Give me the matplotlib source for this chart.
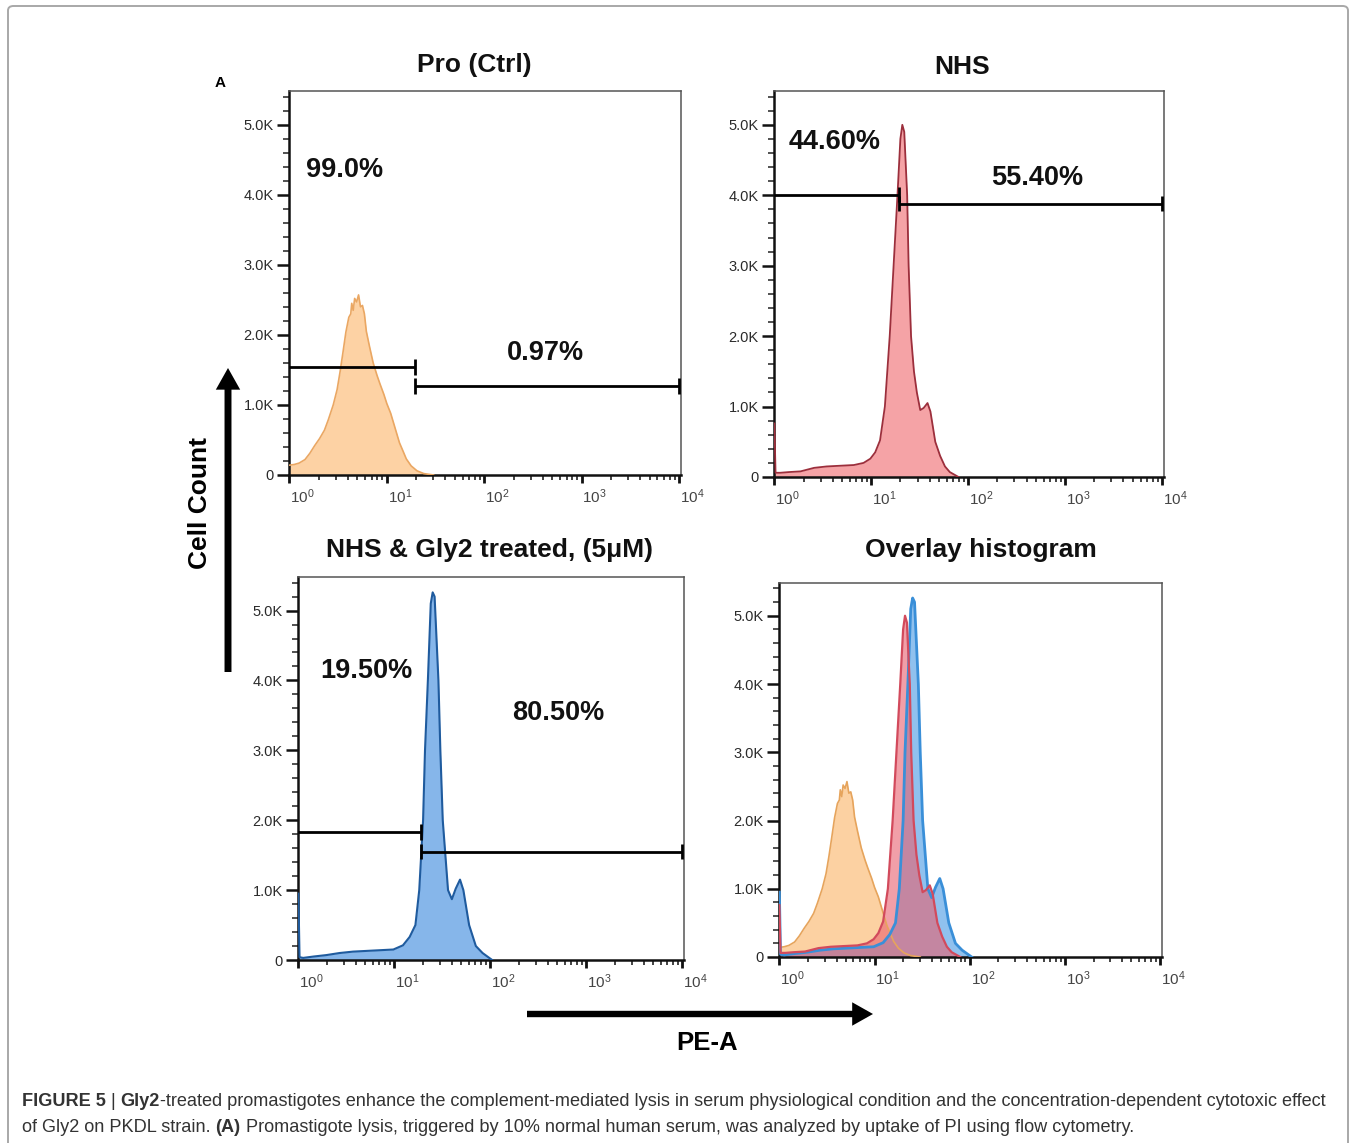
import numpy as np
import matplotlib
matplotlib.use("Agg")
import matplotlib.pyplot as plt
from matplotlib.ticker import FixedLocator, MultipleLocator, LogLocator, NullFormatter, FuncFormatter
from matplotlib.patches import FancyBboxPatch, FancyArrowPatch
import matplotlib.transforms as mtransforms

W, H, DPI = 1356, 1143, 100

# ---------------- data ----------------
titles = ["Pro (Ctrl)", "NHS", "NHS & Gly2 treated, (5μM)", "Overlay histogram"]

# log10(PE-A) positions and cell counts
pro_log_pe = [0.00, 0.05, 0.10, 0.16, 0.21, 0.26, 0.31, 0.36, 0.40, 0.45, 0.49, 0.52,
              0.55, 0.58, 0.61, 0.63, 0.64, 0.655, 0.67, 0.69, 0.71, 0.73, 0.75, 0.77,
              0.79, 0.82, 0.86, 0.90, 0.93, 0.97, 1.00, 1.04, 1.07, 1.10, 1.13, 1.17,
              1.20, 1.25, 1.31, 1.38, 1.48]
pro_count = [140, 150, 170, 220, 310, 420, 520, 640, 790, 1000, 1220, 1470,
             1750, 2040, 2250, 2300, 2450, 2350, 2520, 2470, 2570, 2400, 2420, 2300,
             2050, 1850, 1600, 1420, 1300, 1150, 1020, 880, 740, 600, 460, 330,
             230, 130, 60, 20, 0]

nhs_log_pe = [0.00, 0.012, 0.06, 0.15, 0.27, 0.41, 0.54, 0.68, 0.82, 0.92, 0.99, 1.04,
              1.09, 1.14, 1.19, 1.23, 1.27, 1.30, 1.32, 1.34, 1.37, 1.385, 1.41, 1.44,
              1.47, 1.505, 1.54, 1.58, 1.61, 1.66, 1.71, 1.76, 1.81, 1.90]
nhs_count = [760, 60, 60, 70, 80, 130, 150, 160, 170, 200, 260, 350,
             520, 1000, 2000, 3000, 4000, 4800, 5000, 4900, 4000, 3000, 2000, 1500,
             1200, 950, 980, 1050, 930, 500, 300, 150, 70, 0]

gly_log_pe = [0.00, 0.012, 0.05, 0.16, 0.29, 0.43, 0.57, 0.71, 0.85, 0.99, 1.09, 1.16,
              1.22, 1.26, 1.30, 1.32, 1.35, 1.38, 1.40, 1.42, 1.44, 1.46, 1.48, 1.505,
              1.56, 1.60, 1.64, 1.685, 1.72, 1.78, 1.85, 1.92, 2.02]
gly_count = [950, 40, 30, 50, 70, 100, 120, 130, 140, 150, 210, 330,
             500, 1000, 2000, 3000, 4000, 5100, 5260, 5200, 4600, 4000, 3000, 2000,
             1000, 870, 1020, 1150, 1000, 500, 200, 100, 0]

# gates
gate_split_pe = [19.5, 19.5, 19.0]
gate_end_pe = 10000
gate_left_count = [1540, 4010, 1830]
gate_right_count = [1270, 3880, 1550]
pct_left = ["99.0%", "44.60%", "19.50%"]
pct_right = ["0.97%", "55.40%", "80.50%"]

y_major = [0, 1000, 2000, 3000, 4000, 5000]
x_major = [1, 10, 100, 1000, 10000]

caption_line1 = [("FIGURE 5", True), (" | ", False), ("Gly2", True),
                 ("-treated promastigotes enhance the complement-mediated lysis in serum "
                  "physiological condition and the concentration-dependent cytotoxic effect", False)]
caption_line2 = [("of Gly2 on PKDL strain. ", False), ("(A)", True),
                 (" Promastigote lysis, triggered by 10% normal human serum, was analyzed by "
                  "uptake of PI using flow cytometry.", False)]

# ---------------- layout ----------------
# axes boxes in pixels: left, right, top, bottom
boxes = [(289, 681, 91, 475), (774, 1164, 91, 477), (298, 684, 577, 960), (779, 1162, 583, 957)]
title_pos = [(0.474, 1.068), (0.482, 1.062), (0.495, 1.070), (0.527, 1.088)]
pct_left_pos = [(0.143, 0.794), (0.156, 0.868), (0.176, 0.755)]
pct_right_pos = [(0.653, 0.318), (0.674, 0.775), (0.674, 0.645)]

styles = {
    "pro": dict(fc="#fdd2a4", ec="#eaa763", alpha=1.0, lw=1.2),
    "nhs": dict(fc="#f5a3a6", ec="#9c2f3c", alpha=1.0, lw=1.3),
    "gly": dict(fc="#86b6ea", ec="#1f5b9e", alpha=1.0, lw=1.5),
}
overlay_styles = [
    ("pro", dict(fc="#fcc992", ec="#e6a45c", alpha=0.85, lw=1.2)),
    ("gly", dict(fc="#74b2ea", ec="#3a8fd8", alpha=0.8, lw=2.0)),
    ("nhs", dict(fc="#e8606e", ec="#d24a5c", alpha=0.6, lw=1.6)),
]

plt.rcParams["font.family"] = ["Liberation Sans", "DejaVu Sans"]
plt.rcParams["mathtext.fontset"] = "custom"
plt.rcParams["mathtext.rm"] = "Liberation Sans"

fig = plt.figure(figsize=(W / DPI, H / DPI), dpi=DPI)
fig.patch.set_facecolor("white")

# rounded frame
frame = FancyBboxPatch((8 / W, 1 - 1160 / H), (1348 - 8) / W, (1160 - 6) / H,
                       boxstyle="round,pad=0,rounding_size=0.004", transform=fig.transFigure,
                       fc="none", ec="#a8a8a8", lw=1.4, zorder=0)
fig.add_artist(frame)

data = {
    "pro": (pro_log_pe, pro_count),
    "nhs": (nhs_log_pe, nhs_count),
    "gly": (gly_log_pe, gly_count),
}


def draw_hist(ax, key, st):
    lx, c = data[key]
    x = 10 ** np.asarray(lx, dtype=float)
    y = np.asarray(c, dtype=float)
    ax.fill_between(x, 0, y, color=st["fc"], alpha=st["alpha"], lw=0, zorder=2)
    ax.plot(x, y, color=st["ec"], lw=st["lw"], zorder=3, solid_joinstyle="round")


def kfmt(v, pos):
    return "0" if v == 0 else f"{v / 1000:.1f}K"


def style_axes(ax):
    ax.set_xscale("log")
    ax.set_xlim(10 ** -0.004, 10 ** 4.02)
    ax.set_ylim(0, 5480)
    ax.yaxis.set_major_locator(FixedLocator(y_major))
    ax.yaxis.set_minor_locator(MultipleLocator(200))
    ax.yaxis.set_major_formatter(FuncFormatter(kfmt))
    ax.xaxis.set_major_locator(FixedLocator(x_major))
    ax.xaxis.set_minor_locator(LogLocator(base=10, subs=np.arange(2, 10), numticks=20))
    ax.xaxis.set_minor_formatter(NullFormatter())
    ax.xaxis.set_major_formatter(FuncFormatter(lambda v, p: r"$\mathregular{10^{%d}}$" % round(np.log10(v))))
    ax.tick_params(axis="y", which="major", direction="out", length=9, width=1.8,
                   labelsize=10.5, colors="#111111", labelcolor="#2a2a2a", pad=2)
    ax.tick_params(axis="y", which="minor", direction="out", length=4.5, width=1.1, colors="#222222")
    ax.tick_params(axis="x", which="major", direction="out", length=6, width=2.0,
                   labelsize=11, colors="#111111", labelcolor="#444444", pad=3)
    ax.tick_params(axis="x", which="minor", direction="out", length=3.5, width=1.2, colors="#222222")
    for s in ("left", "bottom"):
        ax.spines[s].set_linewidth(1.8)
        ax.spines[s].set_color("#111111")
    for s in ("top", "right"):
        ax.spines[s].set_linewidth(1.1)
        ax.spines[s].set_color("#555555")
    offset = mtransforms.ScaledTranslation(13 / DPI, 0, fig.dpi_scale_trans)
    for lab in ax.get_xticklabels():
        lab.set_transform(lab.get_transform() + offset)


axes = []
for i, (l, r, t, b) in enumerate(boxes):
    ax = fig.add_axes([l / W, 1 - b / H, (r - l) / W, (b - t) / H])
    axes.append(ax)

keys = ["pro", "nhs", "gly"]
x_left = 10 ** -0.004
for i in range(3):
    ax = axes[i]
    draw_hist(ax, keys[i], styles[keys[i]])
    ax.plot([x_left, gate_split_pe[i]], [gate_left_count[i]] * 2, color="black", lw=2.0, zorder=5,
            solid_capstyle="butt")
    ax.plot([gate_split_pe[i], gate_end_pe], [gate_right_count[i]] * 2, color="black", lw=2.0,
            zorder=5, solid_capstyle="butt")
    cap = 110
    for xv, yv in [(gate_split_pe[i], gate_left_count[i]), (gate_split_pe[i], gate_right_count[i]),
                   (gate_end_pe, gate_right_count[i])]:
        ax.plot([xv, xv], [yv - cap, yv + cap], color="black", lw=2.0, zorder=5,
                solid_capstyle="butt")
    ax.text(*pct_left_pos[i], pct_left[i], transform=ax.transAxes, ha="center", va="center",
            fontsize=19.5, fontweight="bold", color="#111111")
    ax.text(*pct_right_pos[i], pct_right[i], transform=ax.transAxes, ha="center", va="center",
            fontsize=19.5, fontweight="bold", color="#111111")

for key, st in overlay_styles:
    draw_hist(axes[3], key, st)

for i, ax in enumerate(axes):
    style_axes(ax)
    ax.text(*title_pos[i], titles[i], transform=ax.transAxes, ha="center", va="center",
            fontsize=19, fontweight="bold", color="#111111")

# panel letter
fig.text(220 / W, 1 - 83 / H, "A", fontsize=11, fontweight="bold", ha="center", va="center")

# axis arrows
fig.add_artist(FancyArrowPatch((228 / W, 1 - 672 / H), (228 / W, 1 - 368 / H), transform=fig.transFigure,
                               arrowstyle="-|>,head_length=0.8,head_width=0.45", mutation_scale=10,
                               lw=5.0, color="black", shrinkA=0, shrinkB=0, joinstyle="miter",
                               capstyle="butt"))
fig.add_artist(FancyArrowPatch((527 / W, 1 - 1014 / H), (873 / W, 1 - 1014 / H), transform=fig.transFigure,
                               arrowstyle="-|>,head_length=0.8,head_width=0.45", mutation_scale=10,
                               lw=4.6, color="black", shrinkA=0, shrinkB=0, joinstyle="miter",
                               capstyle="butt"))
fig.text(200 / W, 1 - 503 / H, "Cell Count", rotation=90, fontsize=19, fontweight="bold",
         ha="center", va="center")
fig.text(707 / W, 1 - 1043 / H, "PE-A", fontsize=18.5, fontweight="bold", ha="center", va="center")

# caption with mixed weights
renderer = fig.canvas.get_renderer()
cap_family = ["Liberation Sans Narrow", "Liberation Sans", "DejaVu Sans"]
cap_color = "#333333"


def line_width(segs, size):
    w = 0
    for txt, bold in segs:
        t = fig.text(0, 0, txt, fontsize=size, fontweight="bold" if bold else "normal", family=cap_family)
        w += t.get_window_extent(renderer).width
        t.remove()
    return w


base = 12
target = 1334 - 22
size = base * target / line_width(caption_line1, base)


def rich_line(segs, x_px, y_px):
    x = x_px
    for txt, bold in segs:
        t = fig.text(x / W, 1 - y_px / H, txt, fontsize=size, fontweight="bold" if bold else "normal",
                     family=cap_family, color=cap_color, ha="left", va="center")
        x += t.get_window_extent(renderer).width


rich_line(caption_line1, 22, 1102)
rich_line(caption_line2, 22, 1128)

fig.savefig("out.png", dpi=DPI, facecolor="white")
